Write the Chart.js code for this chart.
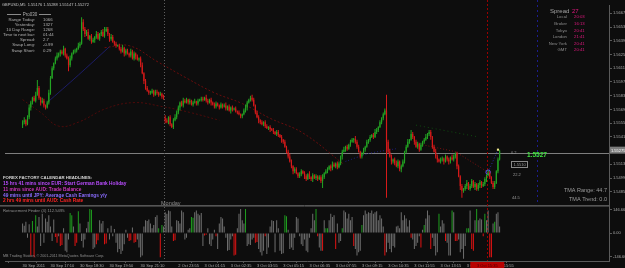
<!DOCTYPE html>
<html>
<head>
<meta charset="utf-8">
<script src="https://cdn.jsdelivr.net/npm/chart.js@4.4.0/dist/chart.umd.min.js"></script>
<style>
  html, body { margin: 0; padding: 0; background: #0d0d0d; }
  canvas { display: block; }
</style>
</head>
<body>
<canvas id="chart" width="625" height="268"></canvas>
<script>
// GBPUSD M5 bars, prices in pips above 1.0000 (5556 -> 1.5556)
const closePips = [
  5556, 5558, 5554, 5561, 5571, 5576, 5581, 5578, 5584, 5591,
  5581, 5576, 5578, 5573, 5571, 5576, 5586, 5601, 5611, 5616,
  5621, 5624, 5626, 5628, 5626, 5631, 5624, 5621, 5614, 5621,
  5626, 5628, 5629, 5631, 5634, 5636, 5658, 5651, 5646, 5648,
  5641, 5644, 5638, 5640, 5643, 5646, 5641, 5646, 5648, 5644,
  5649, 5651, 5646, 5641, 5643, 5638, 5636, 5634, 5634, 5631,
  5628, 5632, 5626, 5629, 5626, 5624, 5628, 5621, 5626, 5623,
  5620, 5621, 5614, 5606, 5598, 5591, 5588, 5586, 5586, 5588,
  5584, 5587, 5586, 5584, 5585, 5582, 5581, 5558, 5556, 5561,
  5554, 5551, 5558, 5561, 5566, 5571, 5576, 5573, 5578, 5576,
  5579, 5576, 5578, 5574, 5576, 5577, 5575, 5578, 5579, 5580,
  5579, 5581, 5578, 5576, 5579, 5576, 5574, 5572, 5575, 5573,
  5571, 5574, 5572, 5573, 5570, 5572, 5568, 5571, 5569, 5570,
  5567, 5566, 5564, 5562, 5564, 5568, 5571, 5576, 5579, 5581,
  5579, 5573, 5566, 5561, 5558, 5556, 5554, 5556, 5552, 5550,
  5551, 5549, 5548, 5546, 5544, 5546, 5543, 5541, 5538, 5536,
  5531, 5526, 5521, 5516, 5511, 5506, 5508, 5504, 5501, 5503,
  5506, 5504, 5501, 5498, 5503, 5500, 5498, 5502, 5499, 5501,
  5498, 5500, 5496, 5500, 5504, 5506, 5508, 5511, 5509, 5513,
  5511, 5514, 5510, 5514, 5521, 5526, 5528, 5531, 5529, 5533,
  5536, 5538, 5539, 5536, 5531, 5526, 5521, 5524, 5528, 5531,
  5536, 5538, 5541, 5543, 5541, 5546, 5548, 5551, 5556, 5560,
  5564, 5568, 5536, 5526, 5521, 5516, 5518, 5514, 5511, 5516,
  5508, 5511, 5516, 5526, 5531, 5536, 5538, 5544, 5541, 5536,
  5531, 5534, 5528, 5533, 5536, 5538, 5541, 5544, 5546, 5541,
  5531, 5526, 5521, 5518, 5516, 5518, 5519, 5516, 5521, 5518,
  5516, 5520, 5518, 5521, 5524, 5511, 5501, 5491, 5486, 5488,
  5491, 5494, 5488, 5491, 5496, 5490, 5493, 5488, 5492, 5495,
  5491, 5493, 5498, 5502, 5504, 5500, 5494, 5490, 5494, 5506,
  5518, 5527
];
// wick lengths in pips above / below the body
const upperWick = [
  2, 3, 1, 2, 3, 2, 1, 2, 3, 8,  2, 1, 3, 2, 1, 2, 3, 2, 2, 1,
  2, 3, 1, 2, 2, 3, 1, 2, 2, 3,  1, 2, 2, 1, 3, 2, 5, 3, 2, 2,
  3, 1, 2, 2, 1, 3, 2, 1, 2, 3,  4, 2, 2, 1, 3, 2, 1, 2, 1, 2,
  2, 3, 1, 2, 2, 1, 3, 2, 2, 1,  2, 1, 2, 3, 1, 2, 2, 1, 2, 2,
  1, 2, 2, 1, 2, 1, 2, 3, 2, 1,  2, 1, 2, 3, 2, 2, 1, 2, 3, 2,
  2, 1, 2, 1, 2, 3, 1, 2, 1, 2,  2, 1, 3, 2, 1, 2, 1, 2, 2, 1,
  1, 2, 1, 2, 3, 1, 2, 1, 2, 1,  2, 1, 2, 1, 1, 2, 3, 2, 1, 2,
  3, 2, 1, 2, 2, 1, 2, 1, 2, 2,  1, 2, 1, 2, 1, 2, 2, 1, 2, 1,
  2, 1, 2, 3, 2, 1, 2, 2, 1, 2,  2, 1, 2, 2, 1, 3, 1, 2, 1, 2,
  1, 2, 2, 3, 1, 2, 2, 1, 2, 3,  2, 1, 2, 2, 1, 2, 3, 1, 2, 1,
  2, 2, 1, 3, 2, 2, 1, 2, 2, 1,  2, 1, 2, 1, 2, 3, 2, 1, 2, 1,
  2, 2, 16, 2, 3, 2, 1, 2, 3, 2, 1, 2, 2, 1, 2, 3, 1, 4, 2, 1,
  2, 2, 1, 2, 1, 2, 3, 1, 2, 2,  1, 2, 3, 2, 1, 2, 2, 1, 2, 1,
  2, 1, 3, 2, 1, 2, 2, 1, 2, 1,  2, 3, 1, 2, 2, 1, 2, 1, 2, 2,
  1, 2, 2, 1, 3, 2, 1, 2, 2, 1,  2, 1
];
const lowerWick = [
  3, 2, 2, 1, 2, 3, 2, 1, 2, 1,  2, 3, 1, 2, 2, 1, 2, 2, 1, 2,
  1, 2, 2, 3, 1, 2, 2, 1, 6, 2,  2, 1, 2, 2, 1, 2, 1, 2, 3, 2,
  1, 2, 2, 1, 3, 2, 1, 2, 2, 1,  2, 1, 2, 3, 2, 1, 2, 2, 1, 2,
  2, 1, 3, 2, 1, 2, 2, 1, 2, 3,  1, 2, 2, 1, 3, 2, 1, 2, 2, 1,
  2, 1, 2, 2, 1, 2, 2, 3, 1, 2,  2, 1, 2, 1, 2, 2, 3, 1, 2, 1,
  1, 2, 2, 1, 2, 1, 2, 2, 1, 2,  2, 1, 2, 2, 1, 3, 1, 2, 2, 1,
  2, 1, 2, 1, 2, 2, 1, 3, 2, 1,  1, 2, 1, 2, 2, 1, 2, 3, 1, 2,
  2, 1, 2, 1, 3, 2, 1, 2, 2, 1,  2, 3, 1, 2, 1, 2, 2, 1, 3, 2,
  1, 2, 2, 1, 2, 3, 2, 1, 2, 2,  2, 1, 3, 2, 1, 2, 2, 3, 1, 2,
  2, 1, 2, 7, 2, 1, 2, 1, 3, 2,  1, 2, 2, 1, 2, 3, 1, 2, 2, 1,
  2, 1, 3, 2, 2, 1, 2, 2, 1, 2,  1, 2, 2, 1, 2, 1, 2, 2, 1, 2,
  2, 1, 57, 2, 1, 3, 2, 2, 1, 2, 2, 3, 1, 2, 2, 1, 2, 1, 2, 3,
  1, 2, 2, 1, 2, 2, 1, 2, 2, 3,  2, 1, 2, 3, 1, 2, 2, 3, 1, 2,
  3, 2, 1, 2, 2, 3, 1, 4, 7, 2,  2, 3, 1, 2, 2, 1, 3, 2, 2, 3,
  2, 1, 2, 3, 1, 2, 1, 2, 2, 1,  2, 1
];
// bars opening away from the previous close (chart start, Monday gap)
const gapBars = [0, 87];
const gapOpens = [5553, 5560];

// sub window histogram and its colour state (g up, r down, n neutral)
const momentum = [
  60, 45, 70, -30, 55, -140, 75, -150, 110, 40,
  100, -80, 120, -60, 90, 70, 110, 40, -50, 85,
  -25, -60, -20, -80, -75, 30, -110, -120, -40, 125,
  110, 40, -80, -60, 135, 60, -50, -90, -40, 30,
  70, 150, 145, -100, -90, -70, -45, 80, 60, 75,
  -70, -65, 30, -40, 45, -20, 25, -60, -120, -100,
  -130, -110, -70, 20, -30, -50, -45, 35, -60, -55,
  -40, -90, -150, -140, 40, 80, 75, 85, 60, 30,
  50, 100, 110, 30, -150, 50, 40, 130, 120, 140,
  135, 40, -50, -45, 80, 75, 60, 140, 130, -40,
  -30, 20, 30, 100, 95, 130, 140, 120, 110, 125,
  -80, -15, -10, 30, -70, -80, -40, 20, -20, -100,
  60, 100, 90, 40, -30, -110, -105, -40, -20, -140,
  -135, 30, 120, 150, 80, 60, 150, -80, -70, -75,
  -40, -30, -60, -55, -100, -120, -140, -110, -20, -130,
  -90, 40, 80, 75, -120, 80, 30, -110, -130, -125,
  110, 105, 20, -100, -90, -105, -30, 100, 90, -20,
  -70, -80, -40, -110, -120, -30, 30, 120, 80, 150,
  -20, -90, -110, -110, 80, 30, 30, 80, 120, 100,
  110, -100, 60, -60, -50, 30, 140, 130, 90, 120,
  80, 100, -80, -100, -140, -120, -110, 50, 110, 140,
  120, 130, 125, 140, 120, 130, 135, 80, 110, 90,
  40, -140, -120, -60, -100, -120, -80, -90, 40, 45,
  30, 130, 80, 110, 90, 40, 80, -30, -40, -100,
  -80, -60, -20, -90, 20, 50, 90, 140, 110, -100,
  -30, -80, -140, -120, 120, 40, 80, 60, -50, -60,
  -140, -140, 140, 130, -50, -50, -40, -120, -100, -160,
  -80, 30, 30, 140, -100, -110, 80, 150, 80, 90,
  85, -20, 120, 80, 140, -150, -150, 60, 70, 120,
  130, 40
];
const momentumTone = (
  'nnnnnrgrgn' + 'nnnnnnnnnn' + 'rrnrrnnnng' + 'gnrrgnnnnn' + 'nggnnrrnnn' +
  'rrnnnnnnnn' + 'nnnnnrrnrr' + 'nnnnnnnnnn' + 'nnngrgnnnn' + 'nnrrnnnnnn' +
  'nnnggnnnnn' + 'nrrnnnnnrn' + 'nnnnnnnnnr' + 'rnnnnngnnn' + 'nnrrnnnnrn' +
  'nnnnnnnnnn' + 'ggnnnnnnnn' + 'nnnnnnnnng' + 'rnnrnggnnn' + 'nrnnngnnnn' +
  'nnrnnnngnn' + 'nnnnnnnnnn' + 'nrnnnnnnnn' + 'nnnnnnnrnn' + 'nnnrngnnnr' +
  'nnnngnnnrn' + 'nngnrrnnnn' + 'nggnrrngnn' + 'nrgnnrrngn' + 'nn'
).split('');

// TMA bands and zigzag legs: bar index, price in pips
const upperBandBars = [50, 65, 82, 100, 117, 134, 151, 171, 196];
const upperBandPips = [5632, 5634, 5618, 5601, 5586, 5575, 5560, 5545, 5513];
const lowerBandBars = [0, 11, 22, 34, 51, 68, 85, 102, 120];
const lowerBandPips = [5579, 5566, 5552, 5556, 5570, 5576, 5572, 5566, 5558];
const centerBars = [15, 34, 53];
const centerPips = [5576, 5604, 5633];
const centerLateBars = [197, 211, 228];
const centerLatePips = [5516, 5524, 5529];
const zigzagBars = [244, 264, 284];
const zigzagPips = [5533, 5526, 5505];
const legBars = [284, 290];
const legPips = [5505, 5528];
const greenLegBars = [240, 278];
const greenLegPips = [5553, 5541];

const priceTicks = [1.5667, 1.5653, 1.5639, 1.5625, 1.5611, 1.5597, 1.5583, 1.5569,
  1.5555, 1.5541, 1.5513, 1.5499, 1.5485];
const oscTicks = [146.666, 0, -146.666];
const oscTickLabels = ['146.666', '0.00', '-146.666'];
const timeTickBars = [0, 17, 35, 53, 72, 95, 111, 127, 143, 159, 175, 191, 207, 223, 239, 255, 271, 287];
const timeTickLabels = ['30 Sep 2011', '30 Sep 17:10', '30 Sep 18:30', '30 Sep 19:50', '30 Sep 21:10',
  '2 Oct 23:55', '3 Oct 01:15', '3 Oct 02:35', '3 Oct 03:55', '3 Oct 05:15', '3 Oct 06:35',
  '3 Oct 07:55', '3 Oct 09:15', '3 Oct 10:35', '3 Oct 11:55', '3 Oct 13:15', '3 Oct 14:35', '3 Oct 15:55'];

const lastPrice = 1.55275;
const bidLine = 1.5525;
const sessionBreak = 86.5;
const eventBar = 283.5;
const eventLabel = '3 Oct 15:35';
const blueMarkBar = 313.8;

const canvas = document.getElementById('chart');
Chart.defaults.font.family = '"Liberation Sans", Arial, sans-serif';

const toPrice = (pips) => 1 + pips / 10000;
const opens = closePips.map((close, i) => {
  const gap = gapBars.indexOf(i);
  return gap >= 0 ? gapOpens[gap] : closePips[i - 1];
});
const highs = closePips.map((close, i) => Math.max(opens[i], close) + upperWick[i]);
const lows = closePips.map((close, i) => Math.min(opens[i], close) - lowerWick[i]);
const rising = closePips.map((close, i) => close >= opens[i]);

const candleColor = (ctx) => (rising[ctx.dataIndex] ? '#23a523' : '#d61a1a');
const toneColors = { g: '#1f9f1f', r: '#e31313', n: '#6f6f6f' };

function points(bars, pips) {
  return bars.map((bar, i) => ({ x: bar, y: toPrice(pips[i]) }));
}

function lineSet(bars, pips, color, dash, tension) {
  return {
    type: 'line',
    yAxisID: 'y',
    data: points(bars, pips),
    borderColor: color,
    borderWidth: 1,
    borderDash: dash,
    pointRadius: 0,
    tension: tension,
    fill: false,
  };
}

function label(ctx, str, x, y, color, size, align, weight) {
  ctx.font = `${weight || 'normal'} ${size}px "Liberation Sans", Arial, sans-serif`;
  ctx.fillStyle = color;
  ctx.textAlign = align || 'left';
  ctx.textBaseline = 'middle';
  ctx.fillText(str, x, y);
}

function vLine(ctx, x, top, bottom, color, dash) {
  ctx.strokeStyle = color;
  ctx.lineWidth = 1;
  ctx.setLineDash(dash);
  ctx.beginPath();
  ctx.moveTo(Math.round(x) + 0.5, top);
  ctx.lineTo(Math.round(x) + 0.5, bottom);
  ctx.stroke();
}

function hLine(ctx, y, left, right, color) {
  ctx.strokeStyle = color;
  ctx.lineWidth = 1;
  ctx.setLineDash([]);
  ctx.beginPath();
  ctx.moveTo(left, Math.round(y) + 0.5);
  ctx.lineTo(right, Math.round(y) + 0.5);
  ctx.stroke();
}

const terminal = {
  id: 'terminal',
  beforeDraw(chart) {
    const { ctx, width, height } = chart;
    ctx.save();
    ctx.fillStyle = '#0d0d0d';
    ctx.fillRect(0, 0, width, height);
    ctx.restore();
  },
  beforeDatasetsDraw(chart) {
    const { ctx, chartArea, scales } = chart;
    const { x, y, osc } = scales;
    ctx.save();
    hLine(ctx, y.getPixelForValue(bidLine), chartArea.left, chartArea.right, '#7e7e7e');
    hLine(ctx, y.bottom, 0, chartArea.right, '#555555');
    hLine(ctx, osc.top + 1, 0, chartArea.right, '#3a3a3a');
    vLine(ctx, x.getPixelForValue(sessionBreak), 0, chartArea.bottom, '#5e5e5e', [1, 2]);
    vLine(ctx, x.getPixelForValue(eventBar), 0, chartArea.bottom, '#9a0000', [2, 2]);
    vLine(ctx, x.getPixelForValue(blueMarkBar), 0, y.bottom, '#1c1c8c', [2, 3]);
    ctx.restore();
  },
  afterDraw(chart) {
    const { ctx, chartArea, scales } = chart;
    const { x, y } = scales;
    ctx.save();

    label(ctx, 'GBPUSD,M5  1.55176 1.55288 1.55147 1.55272', 2, 4.5, '#c4c4c4', 4);

    // info block
    ctx.fillStyle = '#8a8a8a';
    ctx.fillRect(7, 14, 14, 1);
    ctx.fillRect(39, 14, 12, 1);
    label(ctx, 'Pro030', 30, 14.5, '#b0b0b0', 4.5, 'center');
    const info = [['Range Today:', '1066'], ['Yesterday:', '1327'], ['10 Day Range:', '1268'],
      ['Time to next bar:', '01:44'], ['Spread:', '2.7'], ['Swap Long:', '-0.99'], ['Swap Short:', '0.29']];
    const infoRows = [19.5, 24.5, 29.5, 34.5, 40, 45, 50.5];
    info.forEach(([name, value], i) => {
      label(ctx, name, 35, infoRows[i], '#b4b4b4', 4.3, 'right');
      label(ctx, value, 43, infoRows[i], '#b4b4b4', 4.3);
    });

    // clocks
    label(ctx, 'Spread', 550, 11, '#a4a4a4', 6);
    label(ctx, '27', 572, 11, '#e0177f', 6);
    const clocks = [['Local', '20:03'], ['Broker', '16:13'], ['Tokyo', '20:41'],
      ['London', '21:41'], ['New York', '20:41'], ['GMT', '20:41']];
    const clockRows = [17, 24, 30.5, 37, 43.5, 50];
    clocks.forEach(([name, value], i) => {
      label(ctx, name, 567, clockRows[i], '#8e8e8e', 4.3, 'right');
      label(ctx, value, 574, clockRows[i], '#e0177f', 4.3);
    });

    // calendar headlines
    label(ctx, 'FOREX FACTORY CALENDAR HEADLINES:', 3, 178, '#d6d6d6', 4.3, 'left', 'bold');
    label(ctx, '15 hrs 41 mins since EUR: Start German Bank Holiday', 3, 184, '#b94cff', 4.8, 'left', 'bold');
    label(ctx, '11 mins since AUD: Trade Balance', 3, 189.7, '#cc33bb', 4.8, 'left', 'bold');
    label(ctx, '49 mins until JPY: Average Cash Earnings y/y', 3, 195.2, '#8a6cff', 4.8, 'left', 'bold');
    label(ctx, '2 hrs 49 mins until AUD: Cash Rate', 3, 200.8, '#ff2424', 4.8, 'left', 'bold');

    label(ctx, 'Monday', 161, 203.5, '#8e8e8e', 5.5);

    // TMA readout and level tags
    label(ctx, 'TMA Range: 44.7', 607, 190, '#9c9c9c', 5.5, 'right');
    label(ctx, 'TMA Trend: 0.0', 607, 199, '#9c9c9c', 5.5, 'right');
    label(ctx, '1.5527', 527, y.getPixelForValue(lastPrice) + 5.5, '#3fe23f', 6.5, 'left', 'bold');
    label(ctx, '0.2', 511, 153, '#9a9a9a', 4);
    ctx.strokeStyle = '#8a8a8a';
    ctx.setLineDash([]);
    ctx.strokeRect(511.5, 161.5, 16, 6);
    label(ctx, '1.5510', 519.5, 164.7, '#9a9a9a', 4, 'center');
    label(ctx, '22.2', 513, 175, '#9a9a9a', 4);
    label(ctx, '44.5', 512, 198, '#9a9a9a', 4);

    // sub window captions
    label(ctx, 'Retracement Finder (4) 112.5495', 3, 210.5, '#8e8e8e', 4.2);
    label(ctx, 'MB Trading Station, \u00a9 2001-2011 MetaQuotes Software Corp.', 3, 256, '#8e8e8e', 3.7);

    // current price tag on the price axis
    const tagY = y.getPixelForValue(lastPrice);
    ctx.fillStyle = '#7c7c7c';
    ctx.fillRect(y.left + 1, tagY - 3.5, 16, 7);
    label(ctx, lastPrice.toFixed(5), y.left + 2, tagY + 0.3, '#ffffff', 4);

    // time tag of the event line
    const ex = x.getPixelForValue(eventBar);
    ctx.fillStyle = '#b80000';
    ctx.fillRect(ex - 17, chartArea.bottom + 1, 34, 7);
    label(ctx, eventLabel, ex, chartArea.bottom + 4.5, '#4a0000', 4, 'center');
    ctx.restore();
  },
};

new Chart(canvas, {
  type: 'bar',
  data: {
    datasets: [
      {
        yAxisID: 'y',
        data: closePips.map((close, i) => ({ x: i, y: [toPrice(opens[i]), toPrice(close)] })),
        backgroundColor: candleColor,
        grouped: false,
        maxBarThickness: 1.6,
        minBarLength: 1,
        inflateAmount: 0,
      },
      {
        yAxisID: 'y',
        data: closePips.map((close, i) => ({ x: i, y: [toPrice(lows[i]), toPrice(highs[i])] })),
        backgroundColor: candleColor,
        grouped: false,
        maxBarThickness: 1,
        inflateAmount: 0,
      },
      {
        yAxisID: 'osc',
        data: momentum.map((value, i) => ({ x: i, y: value })),
        backgroundColor: (ctx) => toneColors[momentumTone[ctx.dataIndex]],
        grouped: false,
        maxBarThickness: 1,
        inflateAmount: 0,
      },
      {
        type: 'line',
        yAxisID: 'y',
        data: points([legBars[0]], [legPips[0]]),
        showLine: false,
        pointRadius: 2.2,
        pointBorderWidth: 1,
        pointBorderColor: '#5a5aff',
        pointBackgroundColor: 'rgba(0,0,0,0)',
      },
      {
        type: 'line',
        yAxisID: 'y',
        data: points([legBars[1]], [legPips[1]]),
        showLine: false,
        pointStyle: 'rect',
        pointRadius: 1.5,
        pointBorderWidth: 0,
        pointBackgroundColor: '#f0e68c',
      },
      lineSet(upperBandBars, upperBandPips, '#6a0c0c', [2, 2], 0.4),
      lineSet(lowerBandBars, lowerBandPips, '#4e0a0a', [2, 2], 0.4),
      lineSet(centerBars, centerPips, '#1c1c66', [], 0.3),
      lineSet(centerLateBars, centerLatePips, '#1c1c80', [1, 2], 0.3),
      lineSet(zigzagBars, zigzagPips, '#7a1010', [1, 2], 0),
      lineSet(legBars, legPips, '#2a2aa0', [1, 2], 0),
      lineSet(greenLegBars, greenLegPips, '#0f4a0f', [1, 3], 0),
    ],
  },
  options: {
    animation: false,
    responsive: false,
    events: [],
    layout: { padding: 0 },
    plugins: {
      legend: { display: false },
      tooltip: { enabled: false },
    },
    scales: {
      x: {
        type: 'linear',
        min: -0.5,
        max: 347.5,
        afterBuildTicks: (scale) => {
          scale.ticks = timeTickBars.map((value) => ({ value }));
        },
        afterFit: (scale) => {
          scale.height = 7;
        },
        grid: { drawOnChartArea: false, tickLength: 2, color: '#5a5a5a' },
        border: { color: '#5a5a5a' },
        ticks: {
          autoSkip: false,
          maxRotation: 0,
          minRotation: 0,
          align: 'start',
          padding: 0,
          color: '#a8a8a8',
          font: { size: 4 },
          callback: (value, index) => timeTickLabels[index],
        },
      },
      y: {
        position: 'right',
        stack: 'panes',
        stackWeight: 204,
        min: toPrice(5471.5),
        max: toPrice(5675.5),
        afterBuildTicks: (scale) => {
          scale.ticks = priceTicks.map((value) => ({ value }));
        },
        afterFit: (scale) => {
          scale.width = 16;
        },
        grid: { drawOnChartArea: false, tickLength: 3, color: '#5a5a5a' },
        border: { color: '#5a5a5a', dash: [2, 2] },
        ticks: {
          padding: 1,
          color: '#a8a8a8',
          font: { size: 4 },
          callback: (value) => value.toFixed(5),
        },
      },
      osc: {
        position: 'right',
        stack: 'panes',
        stackWeight: 57,
        min: -174,
        max: 174,
        afterBuildTicks: (scale) => {
          scale.ticks = oscTicks.map((value) => ({ value }));
        },
        afterFit: (scale) => {
          scale.width = 16;
        },
        grid: { drawOnChartArea: false, tickLength: 3, color: '#5a5a5a' },
        border: { color: '#5a5a5a', dash: [2, 2] },
        ticks: {
          padding: 1,
          color: '#a8a8a8',
          font: { size: 4 },
          callback: (value, index) => oscTickLabels[index],
        },
      },
    },
  },
  plugins: [terminal],
});
</script>
</body>
</html>
